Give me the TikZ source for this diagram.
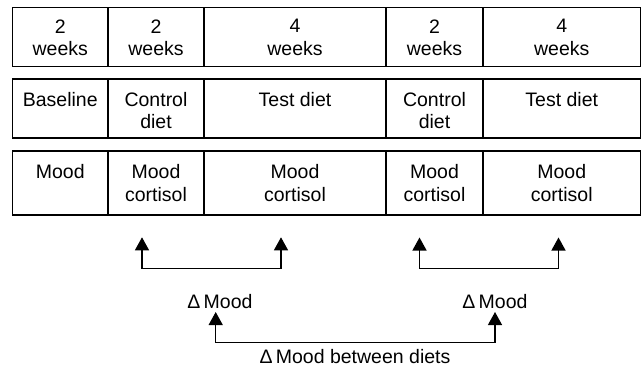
\documentclass[tikz,border=0pt]{standalone}
\usepackage{fontspec}
\setmainfont{Liberation Sans}
\usetikzlibrary{arrows.meta}
\begin{document}
\begin{tikzpicture}[x=1pt,y=-1pt,
  outer/.style={line width=1.8pt},
  inner/.style={line width=1.2pt},
  celltext/.style={anchor=north,inner sep=0pt,align=center,
    font=\fontsize{19.5}{22.7}\selectfont},
  lbl/.style={anchor=base,inner sep=0pt,font=\fontsize{19.5}{22.7}\selectfont},
  conn/.style={line width=1.3pt,{Triangle[length=13pt,width=14pt]}-{Triangle[length=13pt,width=14pt]}}
]
\useasboundingbox (0,0) rectangle (643,367);
% rows
\foreach \t/\b in {7.5/66.5, 79/138, 151/215}{
  \draw[outer] (12.5,\t) rectangle (640.5,\b);
  \foreach \x in {108,204,386,483}
    \draw[inner] (\x,\t) -- (\x,\b);
}
% row 1
\node[celltext] (w1) at (60.25,19.3) {2\\weeks};
\node[celltext] (w2) at (156,19.3) {2\\weeks};
\node[celltext] (w3) at (295,19.3) {4\\weeks};
\node[celltext] (w4) at (434.5,19.3) {2\\weeks};
\node[celltext] (w5) at (561.75,19.3) {4\\weeks};
% row 2
\node[celltext] (d1) at (60.25,91.7) {Baseline};
\node[celltext] (d2) at (156,91.7) {Control\\diet};
\node[celltext] (d3) at (295,91.7) {Test diet};
\node[celltext] (d4) at (434.5,91.7) {Control\\diet};
\node[celltext] (d5) at (561.75,91.7) {Test diet};
% row 3
\node[celltext] (m1) at (60.25,164.3) {Mood};
\node[celltext] (m2) at (156,164.3) {Mood\\cortisol};
\node[celltext] (m3) at (295,164.3) {Mood\\cortisol};
\node[celltext] (m4) at (434.5,164.3) {Mood\\cortisol};
\node[celltext] (m5) at (561.75,164.3) {Mood\\cortisol};
% brackets
\coordinate (a1) at (142,237.3);
\coordinate (a2) at (281,237.3);
\coordinate (b1) at (419.5,237.5);
\coordinate (b2) at (558.5,237.5);
\coordinate (ah) at (0,268.3);
\draw[conn] (a1) -- (a1 |- ah) -- (a2 |- ah) -- (a2);
\draw[conn] (b1) -- (b1 |- ah) -- (b2 |- ah) -- (b2);
\node[lbl] (dm1) at (220,308) {Δ\,Mood};
\node[lbl] (dm2) at (495,308) {Δ\,Mood};
\coordinate (c1) at (215.7,312);
\coordinate (c2) at (495,312);
\coordinate (ch) at (0,342.7);
\draw[conn] (c1) -- (c1 |- ch) -- (c2 |- ch) -- (c2);
\node[lbl] (dmb) at (355,363) {Δ\,Mood between diets};
\end{tikzpicture}
\end{document}
